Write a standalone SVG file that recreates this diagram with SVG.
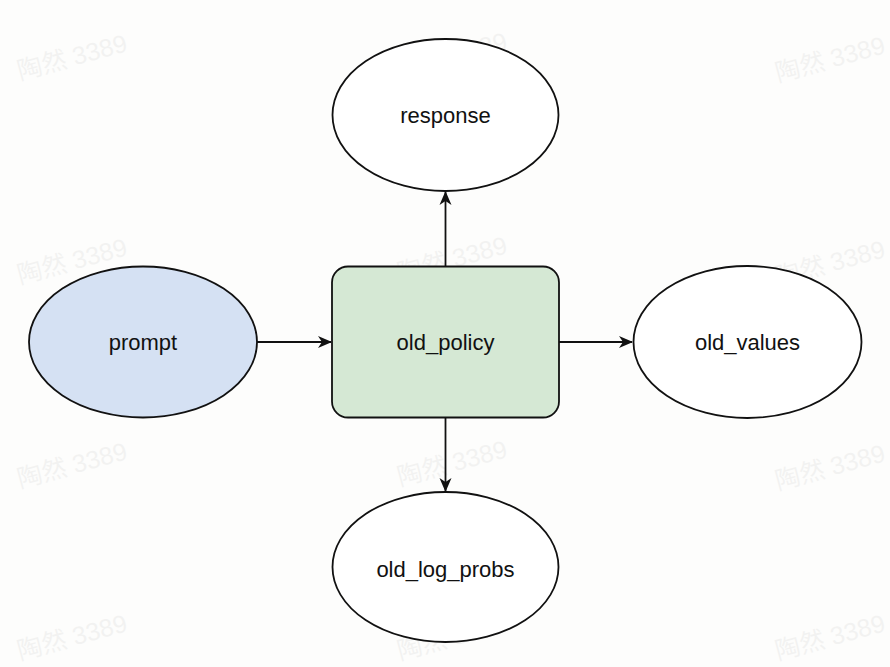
<svg xmlns="http://www.w3.org/2000/svg" width="890" height="667" viewBox="0 0 890 667">
<style>
.node{stroke:#111;stroke-width:1.8}
.lbl{font-family:"Liberation Sans",Arial,sans-serif;font-size:22px;fill:#111;text-anchor:middle;dominant-baseline:central}
.wm{font-family:"Liberation Sans","Noto Sans CJK SC",sans-serif;font-size:25px;fill:#000;opacity:0.04}
.edge{stroke:#111;stroke-width:1.8;fill:none}
</style>
<defs>
<marker id="arr" viewBox="0 0 14 14" refX="13" refY="7" markerWidth="14" markerHeight="14" markerUnits="userSpaceOnUse" orient="auto">
<path d="M0,1 L14,7 L0,13 L4,7 Z" fill="#111"/>
</marker>
</defs>
<rect width="890" height="667" fill="#fdfdfc"/>
<g id="watermarks">
<text class="wm" transform="translate(20,80) rotate(-15)">陶然 3389</text>
<text class="wm" transform="translate(400,78) rotate(-15)">陶然 3389</text>
<text class="wm" transform="translate(778,82) rotate(-15)">陶然 3389</text>
<text class="wm" transform="translate(20,284) rotate(-15)">陶然 3389</text>
<text class="wm" transform="translate(400,282) rotate(-15)">陶然 3389</text>
<text class="wm" transform="translate(778,286) rotate(-15)">陶然 3389</text>
<text class="wm" transform="translate(20,488) rotate(-15)">陶然 3389</text>
<text class="wm" transform="translate(400,486) rotate(-15)">陶然 3389</text>
<text class="wm" transform="translate(778,490) rotate(-15)">陶然 3389</text>
<text class="wm" transform="translate(20,660) rotate(-15)">陶然 3389</text>
<text class="wm" transform="translate(400,660) rotate(-15)">陶然 3389</text>
<text class="wm" transform="translate(778,660) rotate(-15)">陶然 3389</text>
</g>
<g id="connectors">
<line class="edge" x1="257" y1="342" x2="331" y2="342" marker-end="url(#arr)"/>
<line class="edge" x1="559" y1="342" x2="632" y2="342" marker-end="url(#arr)"/>
<line class="edge" x1="445.5" y1="266" x2="445.5" y2="192" marker-end="url(#arr)"/>
<line class="edge" x1="445.5" y1="418" x2="445.5" y2="491" marker-end="url(#arr)"/>
</g>
<g id="response">
<ellipse class="node" cx="445.5" cy="115" rx="113" ry="76" fill="#ffffff"/>
<text class="lbl" x="445.5" y="115">response</text>
</g>
<g id="prompt">
<ellipse class="node" cx="143" cy="342" rx="114" ry="75.5" fill="#d5e1f3"/>
<text class="lbl" x="143" y="342">prompt</text>
</g>
<g id="old_policy">
<rect class="node" x="332" y="266.5" width="227" height="151" rx="16" fill="#d5e8d4"/>
<text class="lbl" x="445.5" y="342">old_policy</text>
</g>
<g id="old_values">
<ellipse class="node" cx="747.5" cy="342" rx="114" ry="76" fill="#ffffff"/>
<text class="lbl" x="747.5" y="342">old_values</text>
</g>
<g id="old_log_probs">
<ellipse class="node" cx="445.5" cy="567" rx="113" ry="75" fill="#ffffff"/>
<text class="lbl" x="445.5" y="569">old_log_probs</text>
</g>
</svg>
